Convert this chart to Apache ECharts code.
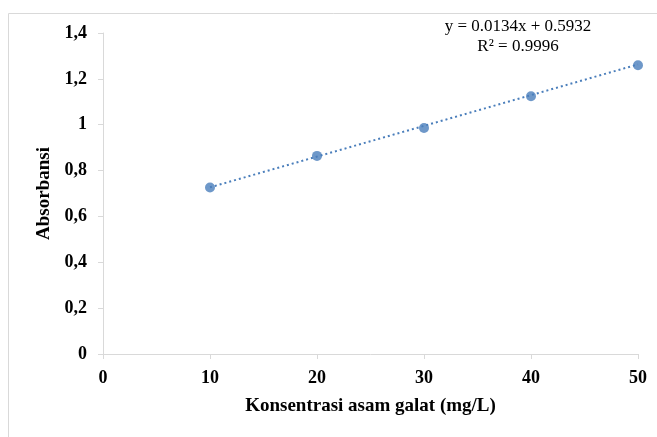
<!DOCTYPE html>
<html>
<head>
<meta charset="utf-8">
<script src="https://cdn.jsdelivr.net/npm/echarts@6/dist/echarts.min.js"></script>
<style>
  html, body { margin: 0; padding: 0; background: #fff; }
  #chart { width: 657px; height: 437px; }
</style>
</head>
<body>
<div id="chart"></div>
<script>
// data
const konsentrasi = [10, 20, 30, 40, 50]
const absorbansi = [0.726, 0.864, 0.986, 1.124, 1.259]
// trendline ends (y = 0.0134x + 0.5932)
const trendX = [10, 50]
const trendY = [0.727, 1.263]
const equationLines = ['y = 0.0134x + 0.5932', 'R² = 0.9996']

;(function () {
  let mychart = echarts.init(document.getElementById('chart'))
  let blue = '#4a7ebb'
  let serif = '"Liberation Serif", "Times New Roman", serif'
  let option = {
    animation: false,
    grid: { left: 103, right: 19, top: 33, bottom: 83 },
    graphic: [
      {
        type: 'rect',
        shape: { x: 8.5, y: 13.5, width: 700, height: 500 },
        style: { fill: 'none', stroke: '#d9d9d9', lineWidth: 1 },
        z: -1
      },
      {
        type: 'text',
        x: 518,
        y: 27,
        style: {
          text: equationLines[0], fontFamily: serif, fontSize: 17, fill: '#000',
          align: 'center', verticalAlign: 'middle'
        }
      },
      {
        type: 'text',
        x: 518,
        y: 47,
        style: {
          text: equationLines[1], fontFamily: serif, fontSize: 17, fill: '#000',
          align: 'center', verticalAlign: 'middle'
        }
      }
    ],
    xAxis: {
      type: 'value',
      min: 0,
      max: 50,
      interval: 10,
      name: 'Konsentrasi asam galat (mg/L)',
      nameLocation: 'middle',
      nameGap: 43,
      nameTextStyle: { fontFamily: serif, fontSize: 19, fontWeight: 'bold', color: '#000' },
      axisLine: { lineStyle: { color: '#d9d9d9', width: 1 } },
      axisTick: { show: true, length: 5, lineStyle: { color: '#d9d9d9' } },
      axisLabel: { fontFamily: serif, fontSize: 18, fontWeight: 'bold', color: '#000', margin: 15 },
      splitLine: { show: false }
    },
    yAxis: {
      type: 'value',
      min: 0,
      max: 1.4,
      interval: 0.2,
      name: 'Absorbansi',
      nameLocation: 'middle',
      nameRotate: 90,
      nameGap: 48,
      nameTextStyle: { fontFamily: serif, fontSize: 19, fontWeight: 'bold', color: '#000' },
      axisLine: { show: true, lineStyle: { color: '#d9d9d9', width: 1 } },
      axisTick: { show: true, length: 5, lineStyle: { color: '#d9d9d9' } },
      axisLabel: {
        fontFamily: serif, fontSize: 18, fontWeight: 'bold', color: '#000', margin: 16,
        formatter: function (v) {
          return String(Math.round(v * 10) / 10).replace('.', ',')
        }
      },
      splitLine: { show: false }
    },
    series: [
      {
        name: 'trend',
        type: 'line',
        data: trendX.map((x, i) => [x, trendY[i]]),
        showSymbol: false,
        symbol: 'none',
        lineStyle: { color: blue, width: 2, type: [2, 3] },
        z: 1
      },
      {
        name: 'Absorbansi',
        type: 'scatter',
        data: konsentrasi.map((x, i) => [x, absorbansi[i]]),
        symbol: 'circle',
        symbolSize: 10,
        itemStyle: { color: blue },
        z: 2
      }
    ]
  }
  mychart.setOption(option)
})();
</script>
</body>
</html>
